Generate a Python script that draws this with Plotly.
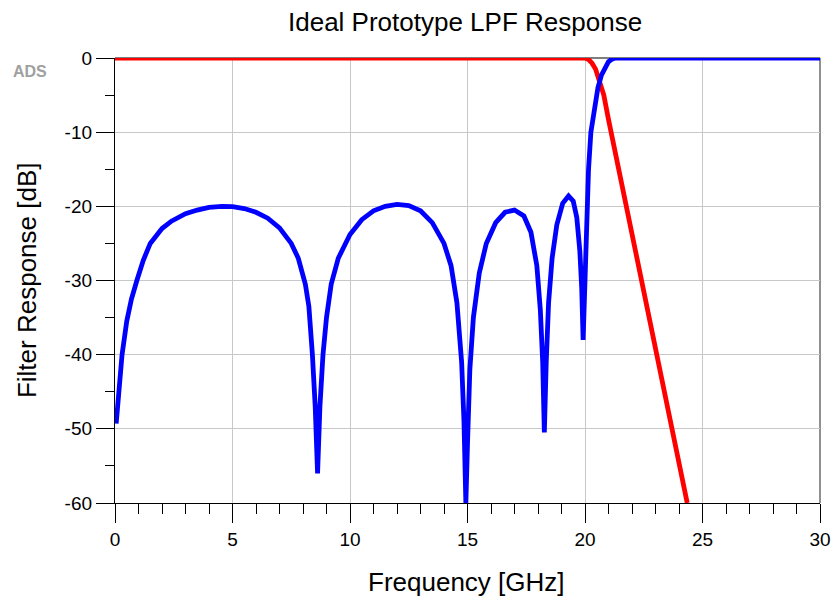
import plotly.graph_objects as go

# Frequency [GHz] and response [dB]
f_s21 = [0, 20.0, 20.15, 20.3, 20.45, 20.6, 20.8, 21.0, 21.5, 22, 22.5, 23, 23.5, 24, 24.35]
s21_db = [0, 0, -0.2, -0.7, -1.5, -2.8, -5, -8.3, -16, -23.8, -31.5, -39.2, -47, -54.7, -60]

f_s11 = [0.05, 0.15, 0.3, 0.5, 0.7, 0.93, 1.2, 1.5, 2.0, 2.4, 3.0, 3.5, 4.0, 4.55, 5.0, 5.5,
         6.0, 6.5, 7.0, 7.5, 7.8, 8.1, 8.25, 8.4, 8.52, 8.62, 8.72, 8.85, 9.0, 9.2, 9.5,
         10.0, 10.5, 11.0, 11.5, 12.0, 12.5, 13.0, 13.5, 14.0, 14.3, 14.55, 14.75, 14.85,
         14.93, 15.0, 15.1, 15.25, 15.5, 15.8, 16.2, 16.6, 17.0, 17.4, 17.7, 17.95, 18.1,
         18.2, 18.27, 18.35, 18.45, 18.6, 18.8, 19.05, 19.3, 19.5, 19.65, 19.78, 19.86,
         19.92, 19.98, 20.05, 20.15, 20.25, 20.4, 20.55, 20.7, 20.85, 21.0, 21.15, 21.3,
         22, 30]
s11_db = [-49.3, -45, -40, -35.5, -32.5, -30, -27.3, -25.0, -23.0, -22.0, -21.0, -20.5,
          -20.15, -20.0, -20.05, -20.3, -20.8, -21.6, -22.9, -25.0, -27.0, -30.5, -33.5,
          -40, -47, -56, -47, -40, -35, -30.5, -27, -23.8, -21.8, -20.6, -20.0, -19.75,
          -19.9, -20.6, -22.2, -25.0, -28, -33, -41, -49, -60, -52, -42, -35, -29, -25,
          -22.2, -20.8, -20.5, -21.3, -23.5, -28, -34, -41, -50.5, -41, -33, -27, -22.5,
          -19.6, -18.6, -19.3, -21.5, -26, -31, -38, -31, -24, -15, -10, -6.5, -4, -2.3,
          -1.2, -0.5, -0.15, 0, 0, 0]

x_ticks = [0, 5, 10, 15, 20, 25, 30]
x_labels = ["0", "5", "10", "15", "20", "25", "30"]
y_ticks = [0, -10, -20, -30, -40, -50, -60]
y_labels = ["0", "-10", "-20", "-30", "-40", "-50", "-60"]

fig = go.Figure()
fig.add_trace(go.Scatter(x=f_s21, y=s21_db, mode="lines",
                         line=dict(color="#ff0000", width=4.8), cliponaxis=False,
                         showlegend=False))
fig.add_trace(go.Scatter(x=f_s11, y=s11_db, mode="lines",
                         line=dict(color="#0000ff", width=4.8), cliponaxis=False,
                         showlegend=False))

font_family = "Arial, Liberation Sans, sans-serif"
fig.update_layout(
    width=833, height=601,
    margin=dict(l=115, r=13, t=58, b=98),
    paper_bgcolor="white", plot_bgcolor="white",
    font=dict(family=font_family, color="black"),
    xaxis=dict(range=[0, 30], tickvals=x_ticks, ticktext=x_labels, ticks="outside",
               ticklen=19, tickcolor="black", tickwidth=1.3, showline=True,
               linecolor="black", linewidth=1.3, showgrid=True, gridcolor="#c8c8c8",
               gridwidth=1, zeroline=False, tickfont=dict(size=19), automargin=False,
               minor=dict(dtick=1, ticks="outside", ticklen=10, tickcolor="black",
                          tickwidth=1.3, showgrid=False)),
    yaxis=dict(range=[-60, 0], tickvals=y_ticks, ticktext=y_labels, ticks="outside",
               ticklen=18, tickcolor="black", tickwidth=1.3, showline=True,
               linecolor="black", linewidth=1.3, showgrid=True, gridcolor="#c8c8c8",
               gridwidth=1, zeroline=False, tickfont=dict(size=19), automargin=False,
               minor=dict(dtick=5, ticks="outside", ticklen=9, tickcolor="black",
                          tickwidth=1.3, showgrid=False)),
    shapes=[
        dict(type="line", xref="paper", yref="paper", x0=0, x1=1, y0=1, y1=1,
             line=dict(color="#555555", width=1.3), layer="below"),
        dict(type="line", xref="paper", yref="paper", x0=1, x1=1, y0=0, y1=1,
             line=dict(color="#555555", width=1.3), layer="below"),
    ],
    annotations=[
        dict(text="Ideal Prototype LPF Response", xref="paper", yref="paper",
             x=0.497, y=1.082, showarrow=False, xanchor="center", yanchor="middle",
             font=dict(size=26, color="black")),
        dict(text="Frequency [GHz]", xref="paper", yref="paper",
             x=0.4986, y=-0.178, showarrow=False, xanchor="center", yanchor="middle",
             font=dict(size=26, color="black")),
        dict(text="Filter Response [dB]", xref="paper", yref="paper", textangle=-90,
             x=-0.1248, y=0.501, showarrow=False, xanchor="center", yanchor="middle",
             font=dict(size=26, color="black")),
        dict(text="<b>ADS</b>", xref="paper", yref="paper", x=-0.12, y=0.970,
             showarrow=False, font=dict(size=16, color="#a0a0a0", family=font_family),
             xanchor="center", yanchor="middle"),
    ],
)

fig.write_html("out.html")
